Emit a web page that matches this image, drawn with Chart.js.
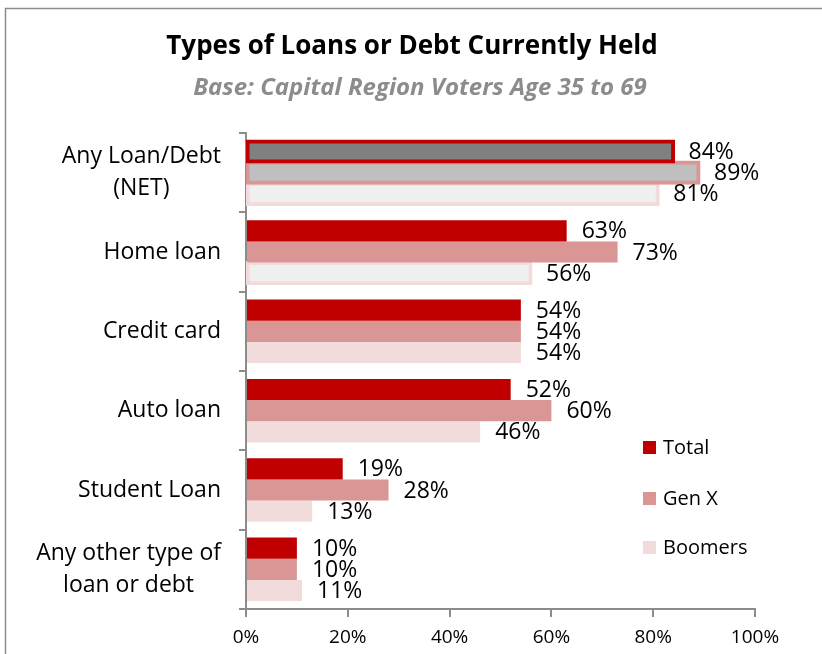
<!DOCTYPE html>
<html>
<head>
<meta charset="utf-8">
<script src="https://cdn.jsdelivr.net/npm/chart.js@4.4.1/dist/chart.umd.min.js"></script>
<style>
  html, body { margin: 0; padding: 0; background: #fff; overflow: hidden; }
  #loanChart { display: block; }
</style>
</head>
<body>
<canvas id="loanChart" width="822" height="654"></canvas>
<script>
// categories and series (percent of respondents)
const categories = [["Any Loan/Debt", "(NET)"], "Home loan", "Credit card", "Auto loan", "Student Loan", ["Any other type of", "loan or debt"]];
const seriesNames = ["Total", "Gen X", "Boomers"];
const totalValues = [84, 63, 54, 52, 19, 10];
const genXValues = [89, 73, 54, 60, 28, 10];
const boomerValues = [81, 56, 54, 46, 13, 11];
const xTickStep = 20;

const titleText = "Types of Loans or Debt Currently Held";
const subtitleText = "Base: Capital Region Voters Age 35 to 69";

const FONT = "'Open Sans', sans-serif";
const AXIS_GREY = "#8c8c8c";
const seriesColors = ["#C00000", "#D99694", "#F2DCDB"];
const greyFills = ["#808080", "#BFBFBF", "#F0F0F0"];
// bars drawn with a grey fill and coloured outline
const outlined = [[0], [0], [0, 1]];

function barStyle(s, n) {
  const bg = [], bc = [], bw = [], inf = [];
  for (let i = 0; i < n; i++) {
    const hl = outlined[s].indexOf(i) >= 0;
    bg.push(hl ? greyFills[s] : seriesColors[s]);
    bc.push(seriesColors[s]);
    bw.push(hl ? 4 : 0);
    inf.push(hl ? 1.5 : "auto");
  }
  return { backgroundColor: bg, borderColor: bc, borderWidth: bw, inflateAmount: inf };
}

const datasets = [totalValues, genXValues, boomerValues].map(function(vals, s) {
  return Object.assign({
    label: seriesNames[s],
    data: vals,
    borderSkipped: false,
    categoryPercentage: 0.8,
    barPercentage: 1.0
  }, barStyle(s, vals.length));
});

// frame, titles, category labels, value labels, legend
const decorPlugin = {
  id: "decor",
  afterDraw(chart) {
    const ctx = chart.ctx;
    const yScale = chart.scales.y;
    ctx.save();

    ctx.strokeStyle = AXIS_GREY;
    ctx.lineWidth = 1.5;
    ctx.beginPath();
    ctx.moveTo(5.5, 700);
    ctx.lineTo(5.5, 8.5);
    ctx.lineTo(900, 8.5);
    ctx.stroke();

    ctx.textAlign = "center";
    ctx.textBaseline = "middle";
    ctx.fillStyle = "#000";
    ctx.font = "bold 26px " + FONT;
    ctx.fillText(titleText, 412, 47);
    ctx.fillStyle = "#8c8c8c";
    ctx.font = "italic bold 24px " + FONT;
    ctx.fillText(subtitleText, 420, 88);

    // category labels: lines centred on each other, block right-aligned
    ctx.fillStyle = "#000";
    ctx.font = "23px " + FONT;
    const rightEdge = yScale.right - 25;
    categories.forEach(function(cat, i) {
      const lines = Array.isArray(cat) ? cat : [cat];
      const w = Math.max.apply(null, lines.map(l => ctx.measureText(l).width));
      const cy = yScale.getPixelForTick(i);
      const lh = 32;
      lines.forEach(function(l, k) {
        ctx.fillText(l, rightEdge - w / 2, cy + (k - (lines.length - 1) / 2) * lh);
      });
    });

    // value labels at bar ends
    ctx.textAlign = "left";
    ctx.font = "23px " + FONT;
    chart.data.datasets.forEach(function(ds, s) {
      chart.getDatasetMeta(s).data.forEach(function(bar, i) {
        ctx.fillText(ds.data[i] + "%", bar.x + 15, bar.y + 1);
      });
    });

    // legend
    ctx.font = "20px " + FONT;
    const legendY = [448, 499, 548];
    seriesNames.forEach(function(name, s) {
      ctx.fillStyle = seriesColors[s];
      ctx.fillRect(643, legendY[s] - 7, 13, 13);
      ctx.fillStyle = "#000";
      ctx.fillText(name, 663, legendY[s]);
    });

    ctx.restore();
  }
};

window.chart = new Chart("loanChart", {
  type: "bar",
  data: { labels: categories, datasets: datasets },
  options: {
    indexAxis: "y",
    responsive: false,
    animation: false,
    layout: { padding: { top: 133, right: 67, left: 0, bottom: 0 } },
    plugins: {
      legend: { display: false },
      tooltip: { enabled: false },
      title: { display: false }
    },
    scales: {
      x: {
        min: 0, max: 100,
        ticks: {
          stepSize: xTickStep,
          callback: v => v + "%",
          color: "#000",
          font: { family: FONT, size: 19 },
          padding: 9
        },
        grid: { drawOnChartArea: false, drawTicks: true, tickLength: 8, color: AXIS_GREY, lineWidth: 2 },
        border: { color: AXIS_GREY, width: 2 },
        afterFit: function(scale) { scale.height = 45; }
      },
      y: {
        ticks: { color: "rgba(0,0,0,0)", font: { family: FONT, size: 22 } },
        grid: { offset: true, drawOnChartArea: false, drawTicks: true, tickLength: 7, color: AXIS_GREY, lineWidth: 2 },
        border: { color: AXIS_GREY, width: 2 },
        afterFit: function(scale) { scale.width = 246; }
      }
    }
  },
  plugins: [decorPlugin]
});
</script>
</body>
</html>
